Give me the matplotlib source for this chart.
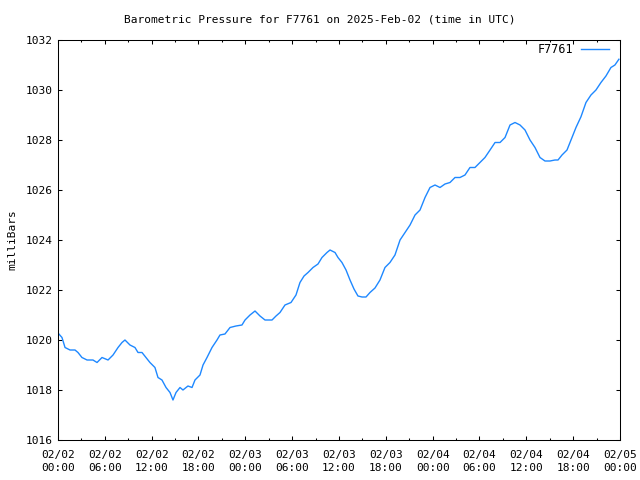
import datetime as dt
import matplotlib
matplotlib.use("Agg")
import matplotlib.pyplot as plt
import matplotlib.dates as mdates

# hours after 2025-02-02 00:00 UTC, and pressure in millibars
hours = [0, 0.51, 0.90, 1.54, 2.18, 2.56, 3.07, 3.72, 4.48, 5.0, 5.64, 6.41, 7.05,
         7.69, 8.20, 8.58, 9.22, 9.86, 10.25, 10.76, 11.27, 11.78, 12.42, 12.81,
         13.32, 13.84, 14.35, 14.73, 15.12, 15.63, 16.01, 16.65, 17.17, 17.55,
         18.19, 18.58, 19.09, 19.73, 20.37, 20.75, 21.39, 22.04, 22.80, 23.57,
         23.96, 24.60, 25.24, 25.88, 26.52, 27.42, 27.93, 28.44, 29.08, 29.85,
         30.49, 31.0, 31.52, 32.03, 32.67, 33.31, 33.82, 34.46, 34.85, 35.49,
         35.87, 36.38, 36.90, 37.41, 37.92, 38.43, 38.95, 39.46, 39.97, 40.61,
         41.25, 41.89, 42.53, 43.17, 43.82, 44.46, 45.10, 45.74, 46.38, 47.02,
         47.66, 48.30, 48.94, 49.58, 50.22, 50.86, 51.50, 52.14, 52.78, 53.42,
         54.06, 54.70, 55.35, 55.99, 56.63, 57.27, 57.91, 58.55, 59.19, 59.83,
         60.47, 61.11, 61.75, 62.39, 63.03, 63.67, 64.06, 64.57, 65.21, 65.85,
         66.36, 67.0, 67.64, 68.28, 68.92, 69.56, 70.20, 70.84, 71.35, 71.86]
pressure = [1020.28, 1020.1, 1019.7, 1019.6, 1019.6, 1019.5, 1019.3, 1019.2, 1019.2,
            1019.1, 1019.3, 1019.2, 1019.4, 1019.7, 1019.9, 1020.0, 1019.8, 1019.7,
            1019.5, 1019.5, 1019.3, 1019.1, 1018.9, 1018.5, 1018.4, 1018.1, 1017.9,
            1017.6, 1017.9, 1018.1, 1018.0, 1018.16, 1018.1, 1018.4, 1018.6, 1019.0,
            1019.3, 1019.7, 1020.0, 1020.2, 1020.24, 1020.5, 1020.56, 1020.6, 1020.8,
            1021.0, 1021.16, 1020.96, 1020.8, 1020.8, 1020.96, 1021.1, 1021.4, 1021.5,
            1021.8, 1022.3, 1022.56, 1022.7, 1022.9, 1023.04, 1023.3, 1023.5, 1023.6,
            1023.5, 1023.3, 1023.1, 1022.8, 1022.4, 1022.04, 1021.76, 1021.72, 1021.72,
            1021.9, 1022.08, 1022.4, 1022.9, 1023.1, 1023.4, 1024.0, 1024.3, 1024.6,
            1025.0, 1025.2, 1025.7, 1026.1, 1026.2, 1026.1, 1026.24, 1026.3, 1026.5,
            1026.5, 1026.6, 1026.9, 1026.9, 1027.1, 1027.3, 1027.6, 1027.9, 1027.9,
            1028.1, 1028.6, 1028.7, 1028.6, 1028.4, 1028.0, 1027.7, 1027.3, 1027.16,
            1027.16, 1027.2, 1027.2, 1027.4, 1027.6, 1028.1, 1028.5, 1028.93, 1029.5,
            1029.8, 1030.0, 1030.3, 1030.56, 1030.9, 1031.0, 1031.23]

start = dt.datetime(2025, 2, 2)
times = [start + dt.timedelta(hours=h) for h in hours]

plt.rcParams['font.family'] = 'DejaVu Sans Mono'
plt.rcParams['font.size'] = 8

fig = plt.figure(figsize=(6.4, 4.8), dpi=100)
ax = fig.add_axes([58 / 640, 40 / 480, 562 / 640, 400 / 480])

ax.plot(times, pressure, color='#1e88ff', lw=1.0, label='F7761')

ax.set_xlim(start, start + dt.timedelta(days=3))
ax.set_ylim(1016, 1032)
ax.set_yticks(range(1016, 1033, 2))

ax.xaxis.set_major_locator(mdates.HourLocator(byhour=[0, 6, 12, 18]))
ax.xaxis.set_minor_locator(mdates.HourLocator(byhour=[3, 9, 15, 21]))
ax.xaxis.set_major_formatter(mdates.DateFormatter('%m/%d\n%H:%M'))

# gnuplot-like ticks: inward, on all four sides
ax.tick_params(which='both', direction='in', top=True, right=True, width=0.75)
ax.tick_params(which='major', length=3)
ax.tick_params(which='minor', length=1.5)
ax.tick_params(axis='x', which='major', pad=7)
ax.tick_params(axis='y', which='major', pad=4)
for s in ax.spines.values():
    s.set_linewidth(0.75)

fig.canvas.draw()
plt.setp(ax.get_xticklabels(), linespacing=1.45)

fig.text(0.5, 1 - 20 / 480, 'Barometric Pressure for F7761 on 2025-Feb-02 (time in UTC)',
         ha='center', va='center', fontsize=8)
fig.text(12 / 640, 0.5, 'milliBars', rotation=90, ha='center', va='center')

ax.legend(loc='upper right', frameon=False, markerfirst=False,
          bbox_to_anchor=((609 - 58) / 562, 1 - 3 / 400),
          handlelength=2.4, handletextpad=0.6, borderpad=0, borderaxespad=0,
          fontsize=8.5)

fig.savefig('out.png', dpi=100)
